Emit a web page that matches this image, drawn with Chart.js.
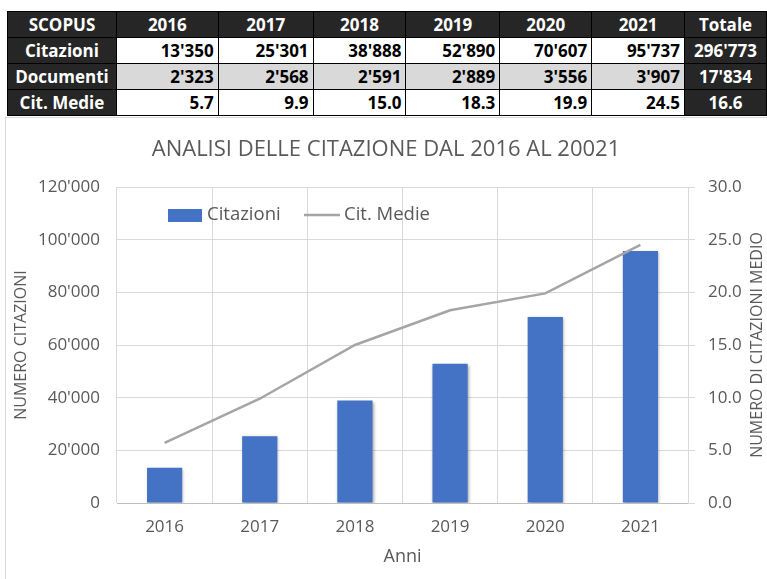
<!DOCTYPE html>
<html>
<head>
<meta charset="utf-8">
<script src="https://cdn.jsdelivr.net/npm/chart.js@4"></script>
<style>
  body { margin: 0; background: #fff; width: 767px; height: 579px; overflow: hidden; position: relative; font-family: 'Open Sans', sans-serif; }
  #tabella { position: absolute; left: 7px; top: 11px; border-collapse: collapse; table-layout: fixed; font-weight: bold; font-size: 17px; }
  #tabella td { border: 1.5px solid #000; height: 25px; padding: 0 4px 0 0; text-align: right; white-space: nowrap; line-height: 25px; }
  #tabella td.scuro { background: #262626; color: #fff; text-align: center; padding: 0; }
  #tabella tr.grigio td:not(.scuro) { background: #d9d9d9; }
  #cornice { position: absolute; left: 5px; top: 117px; width: 800px; height: 480px; border: 1px solid #d9d9d9; }
  #grafico { position: absolute; left: 5px; top: 122px; }
</style>
</head>
<body>
<table id="tabella"></table>
<div id="cornice"></div>
<canvas id="grafico" width="762" height="457"></canvas>
<script>
// Dati SCOPUS
const anni = ['2016', '2017', '2018', '2019', '2020', '2021'];
const citazioni = [13350, 25301, 38888, 52890, 70607, 95737];
const documenti = [2323, 2568, 2591, 2889, 3556, 3907];
const citMedie = [5.7, 9.9, 15.0, 18.3, 19.9, 24.5];
const totali = [296773, 17834, 16.6];

const larghezzeColonne = [109, 102, 95, 93, 94, 92, 93, 82];

function formatta(n) {
    return n.toString().replace(/\B(?=(\d{3})+(?!\d))/g, "'");
}

// Tabella sopra il grafico
const tabella = document.getElementById('tabella');
let html = '<colgroup>' + larghezzeColonne.map(w => `<col style="width:${w}px">`).join('') + '</colgroup>';
html += '<tr><td class="scuro">SCOPUS</td>' + anni.map(a => `<td class="scuro">${a}</td>`).join('') + '<td class="scuro">Totale</td></tr>';
html += '<tr><td class="scuro">Citazioni</td>' + citazioni.map(v => `<td>${formatta(v)}</td>`).join('') + `<td class="scuro">${formatta(totali[0])}</td></tr>`;
html += '<tr class="grigio"><td class="scuro">Documenti</td>' + documenti.map(v => `<td>${formatta(v)}</td>`).join('') + `<td class="scuro">${formatta(totali[1])}</td></tr>`;
html += '<tr><td class="scuro">Cit. Medie</td>' + citMedie.map(v => `<td>${v.toFixed(1)}</td>`).join('') + `<td class="scuro">${totali[2].toFixed(1)}</td></tr>`;
tabella.innerHTML = html;

const grigioTesto = '#595959';
const font = 'Open Sans';

// Legenda dentro l'area del grafico + titolo asse destro
const extra = {
    id: 'extra',
    beforeDatasetDraw(chart, args) {
        if (args.index === 0) {
            const c = chart.ctx;
            c.save();
            c.shadowColor = 'rgba(0,0,0,0.35)';
            c.shadowBlur = 3;
            c.shadowOffsetX = 1;
            c.shadowOffsetY = 1;
        }
    },
    afterDatasetDraw(chart, args) {
        if (args.index === 0) chart.ctx.restore();
    },
    afterDraw(chart) {
        const c = chart.ctx;
        const a = chart.chartArea;
        const ds = chart.data.datasets;
        c.save();
        c.font = `18.5px '${font}'`;
        c.fillStyle = grigioTesto;
        c.textBaseline = 'middle';
        let x = a.left + 51;
        const y = a.top + 28;
        c.fillStyle = ds[0].backgroundColor;
        c.fillRect(x, y - 6, 34, 13);
        c.fillStyle = grigioTesto;
        c.fillText(ds[0].label, x + 39, y);
        x = a.left + 187;
        c.strokeStyle = ds[1].borderColor;
        c.lineWidth = 2.5;
        c.beginPath();
        c.moveTo(x, y);
        c.lineTo(x + 36, y);
        c.stroke();
        c.fillText(ds[1].label, x + 40, y);

        // titolo asse destro, ruotato verso l'alto
        c.font = `16px '${font}'`;
        c.textAlign = 'center';
        c.translate(chart.width - 10, (a.top + a.bottom) / 2);
        c.rotate(-Math.PI / 2);
        c.fillText('NUMERO DI CITAZIONI MEDIO', 0, 0);
        c.restore();
    }
};

const ctx = document.getElementById('grafico').getContext('2d');
new Chart(ctx, {
    data: {
        labels: anni,
        datasets: [{
            type: 'bar',
            label: 'Citazioni',
            data: citazioni,
            backgroundColor: '#4472C4',
            barPercentage: 0.37,
            categoryPercentage: 1,
            yAxisID: 'y',
            order: 1
        }, {
            type: 'line',
            label: 'Cit. Medie',
            data: citMedie,
            borderColor: '#A5A5A5',
            backgroundColor: '#A5A5A5',
            borderWidth: 2.5,
            pointRadius: 0,
            tension: 0,
            yAxisID: 'y1',
            order: 0
        }]
    },
    options: {
        responsive: false,
        animation: false,
        devicePixelRatio: 1,
        layout: { padding: 0 },
        plugins: {
            legend: { display: false },
            tooltip: { enabled: false },
            title: {
                display: true,
                text: 'ANALISI DELLE CITAZIONE DAL 2016 AL 20021',
                color: grigioTesto,
                font: { family: font, size: 22, weight: 'normal', lineHeight: 1.2 },
                padding: { top: 15, bottom: 23.6 }
            }
        },
        scales: {
            x: {
                afterFit: s => { s.height = 76; },
                grid: { offset: true, color: '#d9d9d9', drawTicks: false },
                border: { color: '#bfbfbf', width: 1 },
                ticks: { color: grigioTesto, font: { family: font, size: 17 }, padding: 14 },
                title: {
                    display: true, text: 'Anni', color: grigioTesto,
                    font: { family: font, size: 18 }, padding: { top: 0, bottom: 11 }
                }
            },
            y: {
                position: 'left',
                min: 0, max: 120000,
                afterFit: s => { s.width = 112; },
                grid: { color: '#d9d9d9', drawTicks: false },
                border: { display: false },
                ticks: {
                    stepSize: 20000, color: grigioTesto, padding: 17,
                    font: { family: font, size: 17 },
                    callback: v => formatta(v)
                },
                title: {
                    display: true, text: 'NUMERO CITAZIONI', color: grigioTesto,
                    font: { family: font, size: 16 }, padding: { top: 7, bottom: 0 }
                }
            },
            y1: {
                position: 'right',
                min: 0, max: 30,
                afterFit: s => { s.width = 79; },
                grid: { drawOnChartArea: false, drawTicks: true, tickLength: 7, color: '#d9d9d9' },
                border: { color: '#d9d9d9' },
                ticks: {
                    stepSize: 5, color: grigioTesto, padding: 13,
                    font: { family: font, size: 17 },
                    callback: v => v.toFixed(1)
                }
            }
        }
    },
    plugins: [extra]
});
</script>
</body>
</html>
